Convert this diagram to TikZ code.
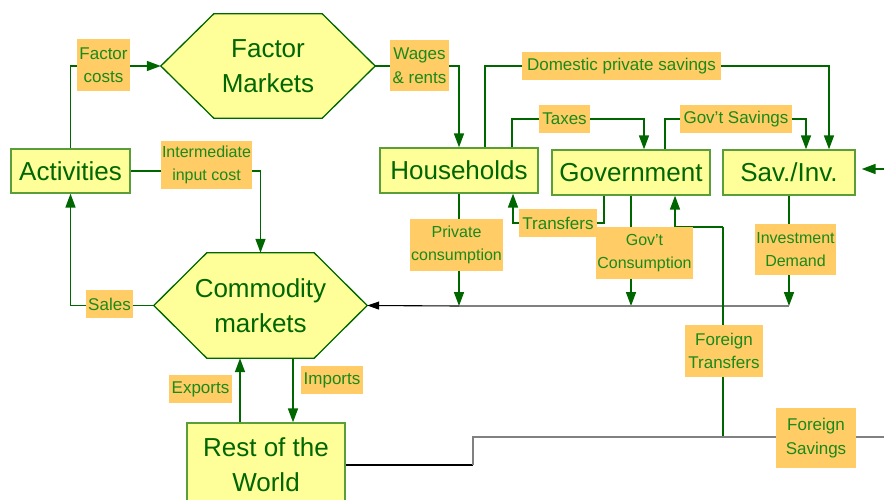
\documentclass[tikz,border=0pt]{standalone}
\usepackage{fontspec}
\setmainfont{Liberation Sans}
\usetikzlibrary{arrows.meta,calc}
\definecolor{nodefill}{HTML}{FFFF99}
\definecolor{boxline}{HTML}{5A9E3A}
\definecolor{dkgreen}{HTML}{006600}
\definecolor{lblfill}{HTML}{FFCC66}
\definecolor{lbltext}{HTML}{1A8A1A}
\definecolor{grayln}{HTML}{808080}
\pgfdeclarelayer{bg}
\pgfdeclarelayer{lines}
\pgfsetlayers{bg,lines,main}
\tikzset{
  box/.style={draw=boxline, line width=1.3pt, fill=nodefill, text=dkgreen,
    font=\fontsize{26}{35}\selectfont, align=center, inner sep=0pt},
  hexn/.style={text=dkgreen, font=\fontsize{26}{35}\selectfont, align=center, inner sep=0pt},
  hexshape/.style={draw=dkgreen, line width=1.3pt, fill=nodefill, line join=miter},
  lbl/.style={fill=lblfill, text=lbltext, font=\fontsize{17}{23.5}\selectfont,
    align=center, inner sep=0pt},
  lblsm/.style={lbl, font=\fontsize{16}{23.5}\selectfont},
  flowline/.style={draw=dkgreen, line width=1.6pt},
  flow/.style={flowline, -{Triangle[length=14pt,width=10pt]}},
  blackflow/.style={draw=black, line width=1.1pt, -{Triangle[length=12pt,width=8pt]}},
  blackline/.style={draw=black, line width=1.4pt},
  grayline/.style={draw=grayln, line width=1.4pt},
}
\begin{document}
\begin{tikzpicture}[x=1pt, y=-1pt]
\useasboundingbox (0,0) rectangle (884,500);

% main nodes
\node[hexn, minimum width=214pt, minimum height=104pt] (fm) at (268,66) {Factor\\Markets};
\node[hexn, minimum width=213pt, minimum height=105pt] (cm) at (260.5,305.5) {Commodity\\markets};
\begin{pgfonlayer}{bg}
\draw[hexshape] (fm.west) -- ([xshift=53pt]fm.north west) -- ([xshift=-53pt]fm.north east)
  -- (fm.east) -- ([xshift=-53pt]fm.south east) -- ([xshift=53pt]fm.south west) -- cycle;
\draw[hexshape] (cm.west) -- ([xshift=53pt]cm.north west) -- ([xshift=-53pt]cm.north east)
  -- (cm.east) -- ([xshift=-53pt]cm.south east) -- ([xshift=53pt]cm.south west) -- cycle;
\end{pgfonlayer}

\node[box, minimum width=119pt, minimum height=44pt] (act) at (70.5,171) {Activities};
\node[box, minimum width=158pt, minimum height=45pt] (hh) at (459,170.5) {Households};
\node[box, minimum width=158pt, minimum height=45pt] (gov) at (631,172.5) {Government};
\node[box, minimum width=132pt, minimum height=45pt] (sav) at (789,172.5) {Sav./Inv.};
\node[box, minimum width=158pt, minimum height=84pt] (rw) at (266,465) {Rest of the\\World};

% labels
\node[lbl, minimum width=53pt, minimum height=52pt] (fc) at (103.5,65) {Factor\\costs};
\node[lbl, minimum width=59pt, minimum height=51pt] (wr) at (419.5,65.5) {Wages\\\& rents};
\node[lbl, minimum width=199pt, minimum height=28pt] (dps) at (621.5,66) {Domestic private savings};
\node[lbl, minimum width=51pt, minimum height=28pt] (tax) at (564.5,119) {Taxes};
\node[lbl, minimum width=112pt, minimum height=28pt] (gs) at (736,119) {Gov’t Savings};
\node[lblsm, minimum width=91pt, minimum height=48pt] (iic) at (206.5,165) {Intermediate\\input cost};
\node[lbl, minimum width=78pt, minimum height=28pt] (tr) at (558,223) {Transfers};
\node[lblsm, minimum width=93pt, minimum height=52pt] (pc) at (456.5,245) {Private\\consumption};
\node[lblsm, minimum width=97pt, minimum height=52pt] (gc) at (644.5,253) {Gov’t\\Consumption};
\node[lblsm, minimum width=81pt, minimum height=51pt] (id) at (795.5,249.5) {Investment\\Demand};
\node[lbl, minimum width=47pt, minimum height=28pt] (sal) at (109.5,304) {Sales};
\node[lbl, minimum width=63pt, minimum height=28pt] (ex) at (200.5,389) {Exports};
\node[lbl, minimum width=62pt, minimum height=28pt] (im) at (332,380) {Imports};
\node[lbl, minimum width=78pt, minimum height=52pt] (ftl) at (724,351) {Foreign\\Transfers};
\node[lbl, minimum width=80pt, minimum height=60pt] (fs) at (816,438) {Foreign\\Savings};

% free coordinates
\coordinate (bus) at (459,306);
\coordinate (busr) at (789,306);
\coordinate (ft) at (723,437);
\coordinate (ftk) at (723,227);
\coordinate (fsk) at (473,437);
\coordinate (fse) at (884,437);
\coordinate (sie) at (884,169);

\begin{pgfonlayer}{lines}
\draw[flow] (act.north) |- (fm.west);
\draw[flow] (fm.east) -| (hh.north);
\draw[flow] ([xshift=26pt]hh.north) |- (dps.center) -| ([xshift=40pt]sav.north);
\draw[flow] ([xshift=53pt]hh.north) |- (tax.center) -| ([xshift=13pt]gov.north);
\draw[flow] ([xshift=34pt]gov.north) |- (gs.center) -| ([xshift=17pt]sav.north);
\draw[flow] ([xshift=-27pt]gov.south) |- (tr.center) -| ([xshift=54pt]hh.south);
\draw[flow] (act.east) -| (cm.north);
\draw[flow] (cm.west) -| (act.south);
\draw[flow] ([xshift=-26pt]rw.north) -- ([xshift=-20.5pt]cm.south);
\draw[flow] ([xshift=32.5pt]cm.south) -- ([xshift=27pt]rw.north);
\draw[flow] (hh.south) -- (hh.south |- bus);
\draw[flow] (gov.south) -- (gov.south |- bus);
\draw[flow] (sav.south) -- (sav.south |- bus);
\draw[grayline] (bus) -- (busr);
\draw[blackflow] (bus) -- (cm.east);
\draw[flowline] (ft) -- (ftk);
\draw[flow] (ftk) -| ([xshift=44pt]gov.south);
\draw[blackline] (rw.east) -- (rw.east -| fsk);
\draw[grayline] (rw.east -| fsk) -- (fsk) -- (fse);
\draw[flow, shorten >=6pt] (sie) -- (sie -| sav.east);
\end{pgfonlayer}
\end{tikzpicture}
\end{document}
